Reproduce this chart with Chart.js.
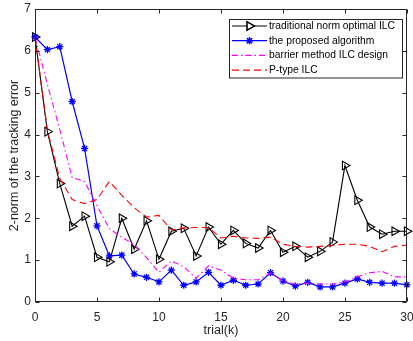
<!DOCTYPE html>
<html><head><meta charset="utf-8">
<script src="https://cdn.jsdelivr.net/npm/chart.js@4.4.1/dist/chart.umd.min.js"></script>
<style>html,body{margin:0;padding:0;background:#fff;overflow:hidden}</style>
</head><body>
<canvas id="c" width="413" height="341" style="width:413px;height:341px;display:block"></canvas>
<script>
const trials = [0,1,2,3,4,5,6,7,8,9,10,11,12,13,14,15,16,17,18,19,20,21,22,23,24,25,26,27,28,29,30];
const traditionalNOILC = [6.33,4.07,2.83,1.81,2.05,1.07,0.96,2.0,1.26,1.94,1.02,1.69,1.76,1.1,1.79,1.38,1.71,1.4,1.29,1.71,1.19,1.33,1.07,1.21,1.43,3.26,2.43,1.79,1.62,1.69,1.69];
const proposedAlgorithm = [6.33,6.03,6.1,4.79,3.67,1.82,1.1,1.12,0.67,0.59,0.48,0.76,0.4,0.48,0.71,0.4,0.52,0.4,0.43,0.7,0.5,0.38,0.47,0.36,0.36,0.45,0.55,0.47,0.45,0.45,0.41];
const barrierMethodILC = [6.33,5.2,4.12,2.97,2.88,2.3,1.75,1.55,1.37,1.06,0.71,0.98,0.84,0.57,0.86,0.76,0.57,0.53,0.53,0.69,0.5,0.43,0.45,0.43,0.43,0.48,0.6,0.7,0.73,0.6,0.6];
const pTypeILC = [6.33,4.1,2.95,2.45,2.35,2.45,2.88,2.55,2.25,2.03,2.07,1.72,1.77,1.78,1.78,1.53,1.57,1.53,1.52,1.55,1.38,1.33,1.31,1.33,1.35,1.38,1.38,1.33,1.2,1.33,1.36];
const seriesNames = ['traditional norm optimal ILC','the proposed algorithm','barrier method ILC design','P-type ILC'];
const xTicks = [0,5,10,15,20,25,30];
const yTicks = [0,1,2,3,4,5,6,7];
const xTitle = 'trial(k)';
const yTitle = '2-norm of the tracking error';

const FONT = "'Liberation Sans', Arial, Helvetica, sans-serif";
const AX = '#262626';
const pts = arr => arr.map((v,i)=>({x:trials[i], y:v}));

const datasets = [
  {label:seriesNames[0], data:pts(traditionalNOILC), borderColor:'#000', borderWidth:1.1,
   pointStyle:'triangle', rotation:90, pointRadius:5, pointBorderColor:'#000', pointBackgroundColor:'rgba(0,0,0,0)', pointBorderWidth:1.1, order:4},
  {label:seriesNames[1], data:pts(proposedAlgorithm), borderColor:'#0000ff', borderWidth:1.2,
   pointStyle:'star', pointRadius:3.6, pointBorderColor:'#0000ff', pointBackgroundColor:'#0000ff', pointBorderWidth:1.3, order:3},
  {label:seriesNames[2], data:pts(barrierMethodILC), borderColor:'#ff00ff', borderWidth:1.1, borderDash:[6,3,1.5,3],
   pointRadius:0, order:2},
  {label:seriesNames[3], data:pts(pTypeILC), borderColor:'#ff0000', borderWidth:1.1, borderDash:[7,4],
   pointRadius:0, order:1}
];

const decor = {
  id:'decor',
  afterDraw(chart){
    const {ctx, chartArea:a, scales:{x,y}} = chart;
    ctx.save();
    ctx.strokeStyle = AX; ctx.lineWidth = 1;
    const L = Math.round(a.left)+0.5, R = Math.round(a.right)-0.5, T = Math.round(a.top)+0.5, B = Math.round(a.bottom)-0.5;
    ctx.strokeRect(L, T, R-L, B-T);
    const tl = 4;
    ctx.beginPath();
    xTicks.forEach(v=>{const p=Math.round(x.getPixelForValue(v))+0.5; ctx.moveTo(p,B); ctx.lineTo(p,B-tl); ctx.moveTo(p,T); ctx.lineTo(p,T+tl);});
    yTicks.forEach(v=>{const p=Math.round(y.getPixelForValue(v))+0.5; ctx.moveTo(L,p); ctx.lineTo(L+tl,p); ctx.moveTo(R,p); ctx.lineTo(R-tl,p);});
    ctx.stroke();
    // titles
    ctx.fillStyle = AX;
    ctx.font = '12.5px ' + FONT;
    ctx.textAlign = 'center'; ctx.textBaseline = 'middle';
    ctx.fillText(xTitle, (a.left+a.right)/2, 331);
    ctx.save();
    ctx.translate(15, (a.top+a.bottom)/2);
    ctx.rotate(-Math.PI/2);
    ctx.fillText(yTitle, 0, 0);
    ctx.restore();
    // legend
    const bx=229.5, by=19.5, bw=173, bh=58.5;
    ctx.fillStyle='#fff'; ctx.fillRect(bx,by,bw,bh);
    ctx.strokeStyle=AX; ctx.lineWidth=1; ctx.strokeRect(bx,by,bw,bh);
    ctx.font = '10.3px ' + FONT; ctx.textAlign='left'; ctx.textBaseline='middle';
    const rowY = [26, 40.7, 55.4, 70.1];
    chart.data.datasets.forEach((ds,i)=>{
      const yy = rowY[i];
      ctx.save();
      ctx.strokeStyle = ds.borderColor; ctx.lineWidth = ds.borderWidth;
      ctx.setLineDash(ds.borderDash || []);
      ctx.beginPath(); ctx.moveTo(232, yy); ctx.lineTo(267, yy); ctx.stroke();
      ctx.setLineDash([]);
      if (ds.pointRadius > 0) {
        Chart.helpers.drawPoint(ctx, {pointStyle: ds.pointStyle, rotation: ds.rotation||0, radius: ds.pointRadius, borderWidth: ds.pointBorderWidth}, 249.5, yy);
        ctx.strokeStyle = ds.pointBorderColor; ctx.fillStyle = ds.pointBackgroundColor; ctx.lineWidth = ds.pointBorderWidth;
        ctx.beginPath();
        Chart.helpers.drawPoint(ctx, {pointStyle: ds.pointStyle, rotation: ds.rotation||0, radius: ds.pointRadius, borderWidth: ds.pointBorderWidth}, 249.5, yy);
      }
      ctx.restore();
      ctx.fillStyle = '#000';
      ctx.fillText(ds.label, 269, yy);
    });
    ctx.restore();
  }
};

new Chart(document.getElementById('c'), {
  type:'line',
  data:{datasets},
  options:{
    responsive:false, animation:false, devicePixelRatio:1,
    layout:{padding:{top:9, right:4, left:0, bottom:0}},
    elements:{line:{tension:0, fill:false}},
    plugins:{legend:{display:false}, tooltip:{enabled:false}},
    datasets:{line:{clip:false}},
    scales:{
      x:{type:'linear', min:0, max:30,
        grid:{display:false, drawTicks:false}, border:{display:false},
        afterBuildTicks:s=>{s.ticks = xTicks.map(v=>({value:v}));},
        ticks:{maxRotation:0, padding:8, color:AX, font:{family:FONT, size:12}},
        afterFit:s=>{s.height=39; s.paddingLeft=0; s.paddingRight=0;}
      },
      y:{type:'linear', min:0, max:7,
        grid:{display:false, drawTicks:false}, border:{display:false},
        afterBuildTicks:s=>{s.ticks = yTicks.map(v=>({value:v}));},
        ticks:{padding:4, color:AX, font:{family:FONT, size:12}},
        afterFit:s=>{s.width=35; s.paddingTop=0; s.paddingBottom=0;}
      }
    }
  },
  plugins:[decor]
});
</script>
</body></html>
